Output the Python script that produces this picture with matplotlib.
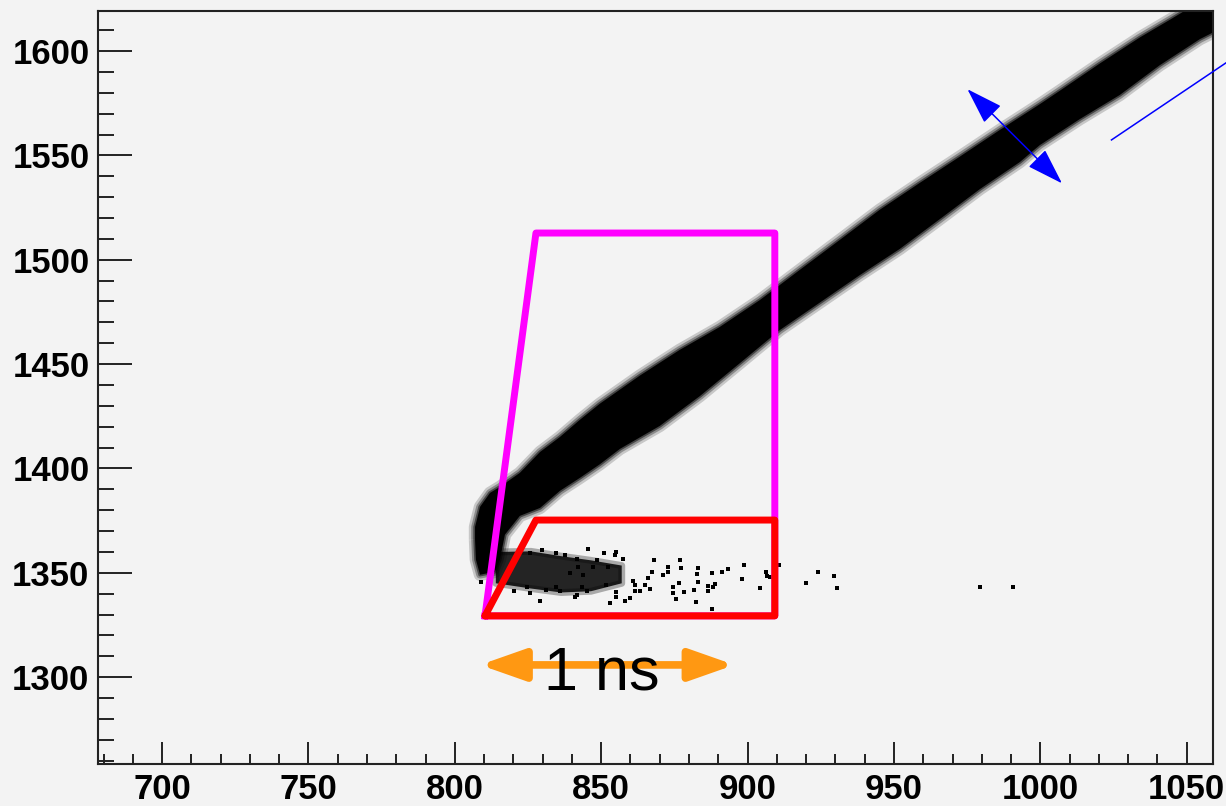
import matplotlib.pyplot as plt
from matplotlib.patches import FancyArrowPatch, Polygon
from matplotlib.ticker import MultipleLocator

plt.rcParams["font.family"] = "Liberation Sans"

# outline of the dense band, upper edge (left -> right)
upper_x = [806.9, 806.9, 808.6, 812.0, 815.4, 822.2, 829.1, 835.9, 842.7, 849.5,
           863.2, 876.8, 890.5, 904.2, 917.8, 931.5, 945.1, 958.8, 972.4, 986.2,
           999.8, 1006.7, 1020.3, 1034.0, 1044.3, 1062.0]
upper_y = [1365.8, 1372.0, 1381.6, 1388.3, 1391.2, 1397.9, 1407.9, 1415.1, 1423.3, 1431.0,
           1444.5, 1456.8, 1467.8, 1480.7, 1495.1, 1509.5, 1523.9, 1536.8, 1549.3, 1562.2,
           1574.5, 1581.0, 1594.0, 1606.5, 1615.0, 1630.0]
# lower edge (right -> left)
lower_x = [1062.0, 1054.5, 1040.8, 1027.1, 1013.5, 999.8, 993.0, 979.4, 965.7, 952.0,
           938.4, 924.7, 911.0, 897.4, 883.7, 870.0, 856.4, 849.5, 842.7, 835.9,
           829.1, 822.2, 817.1, 815.4, 813.7, 808.6, 807.2]
lower_y = [1611.0, 1605.7, 1593.2, 1578.9, 1567.4, 1554.9, 1546.8, 1533.9, 1519.5, 1505.2,
           1492.7, 1479.5, 1466.3, 1450.5, 1434.7, 1420.4, 1409.4, 1402.0, 1395.5, 1389.3,
           1381.1, 1377.3, 1368.3, 1356.3, 1350.5, 1349.1, 1356.3]

# dense part of the low branch
core_x = [814.0, 826.0, 836.3, 846.5, 857.0, 857.0, 846.5, 836.3, 826.0, 814.0]
core_y = [1360.0, 1360.3, 1358.0, 1356.0, 1353.5, 1345.0, 1341.2, 1340.6, 1342.5, 1345.0]

# single events of the low branch
tail_x = [924.1, 929.6, 920.1, 930.4, 910.7, 906.2, 906.5, 907.6, 904.2, 898.2,
          898.7, 893.4, 891.3, 887.9, 888.8, 888.3, 886.6, 886.6, 882.8, 883.1,
          883.1, 882.3, 887.9, 881.8, 878.2, 876.4, 874.4, 874.6, 875.7, 876.9,
          877.2, 872.7, 872.9, 871.2, 868.0, 867.2, 866.1, 866.6, 864.9, 863.2,
          861.5, 861.5, 860.7, 859.8, 858.1, 857.5, 855.2, 854.7, 855.2, 855.0,
          853.0, 851.8, 852.4, 851.0, 848.4, 845.6, 845.0, 847.3, 843.9, 843.3,
          841.6, 841.0, 829.1, 825.6, 820.2, 979.4, 990.7, 809.1, 822.2, 825.6,
          829.6, 834.7, 837.6, 841.6, 842.1, 839.3, 834.7, 831.3, 835.9, 824.5]
tail_y = [1350.6, 1348.7, 1345.0, 1342.9, 1353.8, 1350.6, 1348.5, 1347.9, 1342.9, 1346.9,
          1353.8, 1351.7, 1350.6, 1349.8, 1344.7, 1343.4, 1343.7, 1341.5, 1349.3, 1345.8,
          1352.5, 1336.2, 1332.6, 1341.8, 1341.0, 1345.0, 1343.4, 1340.2, 1337.3, 1356.2,
          1352.5, 1350.6, 1353.0, 1349.0, 1356.2, 1350.6, 1347.4, 1342.1, 1344.2, 1341.3,
          1341.5, 1344.2, 1346.1, 1337.8, 1336.6, 1356.5, 1360.2, 1358.6, 1341.0, 1338.3,
          1335.4, 1344.2, 1353.0, 1359.4, 1356.2, 1361.3, 1341.3, 1353.0, 1349.0, 1343.4,
          1339.4, 1338.3, 1336.6, 1340.2, 1341.5, 1343.3, 1343.3, 1345.8, 1360.2, 1359.4,
          1361.0, 1359.4, 1358.6, 1356.5, 1353.0, 1349.8, 1343.4, 1341.8, 1341.5, 1343.4]

# gates
magenta_x = [810.3, 827.7, 909.3, 909.3]
magenta_y = [1329.4, 1512.8, 1512.8, 1329.4]
red_x = [810.3, 827.7, 909.3, 909.3]
red_y = [1329.4, 1375.3, 1375.3, 1329.4]

# annotations
ns_arrow = [(808.6, 1305.9), (895.5, 1305.9)]
width_arrow = [(975.1, 1581.7), (1007.4, 1536.6)]
blue_line_x = [1024.3, 1063.4]
blue_line_y = [1557.4, 1594.3]

bg = "#f3f3f3"
fig = plt.figure(figsize=(12.26, 8.06), dpi=100, facecolor=bg)
ax = fig.add_axes([0.0797, 0.0515, 0.9095, 0.9352])
ax.set_facecolor(bg)

band_xy = list(zip(upper_x + lower_x, upper_y + lower_y))
# loose events around the band give it a fuzzy rim
for lw, a in [(9, 0.18), (5.5, 0.3), (2.5, 0.5)]:
    ax.add_patch(Polygon(band_xy, closed=True, facecolor="none", edgecolor="black",
                         lw=lw, alpha=a, joinstyle="round", zorder=2))
ax.add_patch(Polygon(band_xy, closed=True, facecolor="black", edgecolor="none", zorder=2))

core_xy = list(zip(core_x, core_y))
ax.add_patch(Polygon(core_xy, closed=True, facecolor="none", edgecolor="black",
                     lw=5, alpha=0.3, joinstyle="round", zorder=2))
ax.add_patch(Polygon(core_xy, closed=True, facecolor="black", edgecolor="none",
                     alpha=0.85, zorder=2))
ax.scatter(tail_x, tail_y, s=5, marker="s", color="black", linewidths=0, zorder=2)

ax.plot(magenta_x + magenta_x[:1], magenta_y + magenta_y[:1], color="#ff00ff",
        lw=5, solid_joinstyle="round", zorder=3)
ax.plot(red_x + red_x[:1], red_y + red_y[:1], color="#ff0000",
        lw=5, solid_joinstyle="round", solid_capstyle="round", zorder=4)

ax.add_patch(FancyArrowPatch(ns_arrow[0], ns_arrow[1],
                             arrowstyle="<|-|>,head_length=27,head_width=9.5",
                             mutation_scale=1, color="#ff9812", lw=5.5,
                             shrinkA=0, shrinkB=0, zorder=5))
ax.text(850.1, 1293.9, "1 ns", fontsize=44, ha="center", va="baseline", zorder=6)

ax.add_patch(FancyArrowPatch(width_arrow[0], width_arrow[1],
                             arrowstyle="<|-|>,head_length=23,head_width=7.5",
                             mutation_scale=1, color="#0000ff", lw=1.1,
                             shrinkA=0, shrinkB=0, zorder=5))
ax.plot(blue_line_x, blue_line_y, color="#0000ff", lw=1.1, clip_on=False, zorder=5)

ax.set_xlim(678.0, 1058.9)
ax.set_ylim(1258.2, 1619.3)
ax.xaxis.set_major_locator(MultipleLocator(50))
ax.xaxis.set_minor_locator(MultipleLocator(10))
ax.yaxis.set_major_locator(MultipleLocator(50))
ax.yaxis.set_minor_locator(MultipleLocator(10))

ax.tick_params(axis="x", which="major", direction="in", length=15.8, width=1.4,
               pad=6, labelsize=25, color="#222222")
ax.tick_params(axis="x", which="minor", direction="in", length=7.2, width=1.4,
               color="#222222")
ax.tick_params(axis="y", which="major", direction="in", length=24.5, width=1.4,
               pad=6, labelsize=25, color="#222222")
ax.tick_params(axis="y", which="minor", direction="in", length=11.5, width=1.4,
               color="#222222")
for lab in ax.get_xticklabels() + ax.get_yticklabels():
    lab.set_fontweight("bold")

for sp in ax.spines.values():
    sp.set_linewidth(1.5)
    sp.set_color("#222222")

plt.savefig("out.png", dpi=100, facecolor=bg)
